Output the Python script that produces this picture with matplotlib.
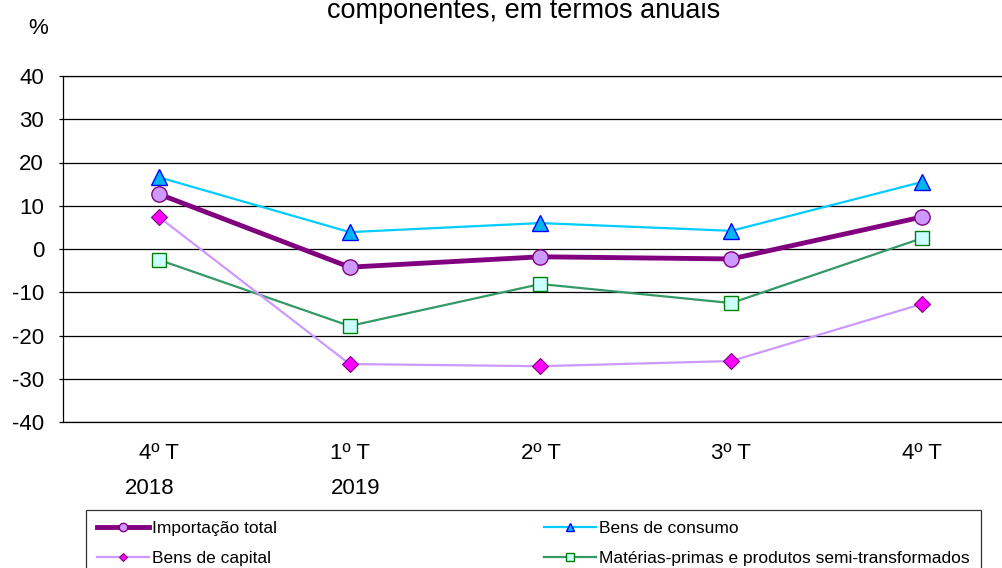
import matplotlib

matplotlib.use("Agg")
import matplotlib.pyplot as plt

plt.rcParams["font.family"] = ["Liberation Sans", "DejaVu Sans"]
plt.rcParams["axes.unicode_minus"] = False

# data
quarters = ["4º T", "1º T", "2º T", "3º T", "4º T"]
years = ["2018", "2019", "", "", ""]
importacao_total = [12.7, -4.2, -1.8, -2.3, 7.4]
bens_consumo = [16.6, 3.9, 6.0, 4.2, 15.5]
bens_capital = [7.4, -26.6, -27.1, -25.9, -12.7]
materias_primas = [-2.5, -17.8, -8.1, -12.5, 2.5]

fig = plt.figure(figsize=(10.03, 5.68), dpi=100)
# axes runs past the right edge of the figure, as in the original
ax = fig.add_axes([63.5 / 1003, 1 - 422 / 568, 954 / 1003, 346 / 568])

x = list(range(len(quarters)))

h_cons, = ax.plot(x, bens_consumo, color="#00CCFF", lw=1.6, marker="^",
                  ms=11, mfc="#00B4F0", mec="#0000FF", mew=1.0,
                  label="Bens de consumo", zorder=3)
h_mat, = ax.plot(x, materias_primas, color="#339966", lw=1.6, marker="s",
                 ms=10, mfc="#CCFFFF", mec="#008000", mew=1.0,
                 label="Matérias-primas e produtos semi-transformados", zorder=3)
h_cap, = ax.plot(x, bens_capital, color="#CC99FF", lw=1.6, marker="D",
                 ms=8, mfc="#FF00FF", mec="#800080", mew=0.8,
                 label="Bens de capital", zorder=3)
h_imp, = ax.plot(x, importacao_total, color="#800080", lw=3.5, marker="o",
                 ms=11, mfc="#CC99FF", mec="#800080", mew=1.0,
                 label="Importação total", zorder=4)

ax.set_xlim(-0.5, 4.5)
ax.set_ylim(-40, 40)
ax.set_yticks(range(-40, 41, 10))
ax.yaxis.grid(True, color="black", lw=0.9)
ax.set_axisbelow(True)
ax.tick_params(axis="y", direction="out", length=3, width=0.9,
               labelsize=16, pad=11)
ax.tick_params(axis="x", length=0, labelsize=16, pad=15)
ax.set_xticks(x)
ax.set_xticklabels(quarters)

# year labels sit a little off-centre in the original
year_shift = [-0.05, 0.03, 0, 0, 0]
for i, yr in enumerate(years):
    if yr:
        ax.text(i + year_shift[i], -(489 - 422) / 346, yr,
                transform=ax.get_xaxis_transform(),
                ha="center", va="center", fontsize=16)
for s in ax.spines.values():
    s.set_color("black")
    s.set_linewidth(0.9)

fig.text(38 / 1003, 1 - 28 / 568, "%", ha="center", va="center", fontsize=16)
fig.text(524 / 1003, 1 - 18 / 568, "componentes, em termos anuais",
         ha="center", va="baseline", fontsize=19.5)

leg = fig.legend(handles=[h_imp, h_cap, h_cons, h_mat], ncol=2,
                 loc="upper left", bbox_to_anchor=(86 / 1003, 1 - 510 / 568),
                 fontsize=12.5, frameon=True, fancybox=False, markerscale=0.55,
                 handlelength=3.0, handletextpad=0.15, columnspacing=15.4,
                 borderpad=0.65, labelspacing=0.85, borderaxespad=0)
leg.get_frame().set_edgecolor("black")
leg.get_frame().set_linewidth(0.9)

fig.savefig("out.png", dpi=100)
